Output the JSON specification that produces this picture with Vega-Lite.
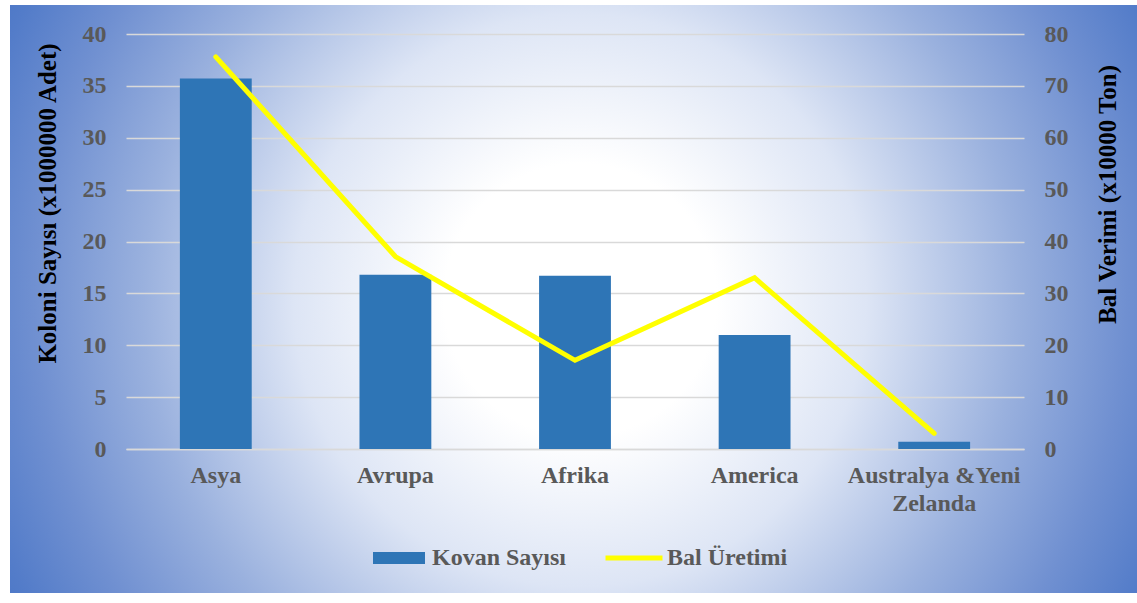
{
  "$schema": "https://vega.github.io/schema/vega-lite/v6.json",
  "width": 1127,
  "height": 588,
  "autosize": {"type": "none"},
  "padding": {"left": 10, "top": 5, "right": 0, "bottom": 10},
  "background": "#ffffff",
  "data": {
    "values": [
      {"region": "Asya", "kovan": 35.7, "bal": 75.6},
      {"region": "Avrupa", "kovan": 16.8, "bal": 37.1},
      {"region": "Afrika", "kovan": 16.7, "bal": 17.1},
      {"region": "America", "kovan": 11.0, "bal": 33.0},
      {"region": "Australya &Yeni Zelanda", "kovan": 0.7, "bal": 3.0}
    ]
  },
  "encoding": {
    "x": {
      "field": "region",
      "type": "nominal",
      "sort": null,
      "scale": {"range": [116, 1014], "paddingInner": 0.6, "paddingOuter": 0.3},
      "axis": {
        "title": null,
        "labelAngle": 0,
        "offset": -144,
        "domainColor": "#d9d9d9",
        "domainWidth": 1.5,
        "ticks": false,
        "tickSize": 0,
        "labelPadding": 14,
        "labelLineHeight": 28,
        "labelExpr": "datum.label == 'Australya &Yeni Zelanda' ? ['Australya &Yeni', 'Zelanda'] : datum.label"
      }
    }
  },
  "layer": [
    {
      "mark": {"type": "bar"},
      "encoding": {
        "y": {
          "field": "kovan",
          "type": "quantitative",
          "scale": {"domain": [0, 40], "range": [444, 29], "nice": false},
          "axis": {
            "title": "Koloni Sayısı (x1000000 Adet)",
            "orient": "left",
            "offset": -116,
            "values": [0, 5, 10, 15, 20, 25, 30, 35, 40],
            "domain": false,
            "ticks": false,
            "tickSize": 0,
            "labelPadding": 20,
            "grid": true,
            "gridColor": "#d9d9d9",
            "gridWidth": 1.5,
            "titleX": -79,
            "titleY": 198,
            "titleAngle": 270,
            "titleAlign": "center",
            "titleBaseline": "middle"
          }
        },
        "fill": {
          "datum": "Kovan Sayısı",
          "type": "nominal",
          "scale": {"range": ["#2e75b6"]},
          "legend": {
            "title": null,
            "orient": "none",
            "legendX": 362,
            "legendY": 526,
            "padding": 0,
            "symbolType": "M-1,-0.23H1V0.23H-1Z",
            "symbolSize": 2704,
            "labelOffset": 6
          }
        }
      }
    },
    {
      "mark": {"type": "line", "strokeWidth": 5, "strokeCap": "round"},
      "encoding": {
        "y": {
          "field": "bal",
          "type": "quantitative",
          "scale": {"domain": [0, 80], "range": [444, 29], "nice": false},
          "axis": {
            "title": "Bal Verimi (x10000 Ton)",
            "orient": "right",
            "offset": -113,
            "values": [0, 10, 20, 30, 40, 50, 60, 70, 80],
            "domain": false,
            "ticks": false,
            "tickSize": 0,
            "labelPadding": 20,
            "grid": false,
            "titleX": 83,
            "titleY": 189,
            "titleAngle": 270,
            "titleAlign": "center",
            "titleBaseline": "middle"
          }
        },
        "stroke": {
          "datum": "Bal Üretimi",
          "type": "nominal",
          "scale": {"range": ["#ffff00"]},
          "legend": {
            "title": null,
            "orient": "none",
            "legendX": 593,
            "legendY": 522,
            "padding": 0,
            "symbolType": "stroke",
            "symbolSize": 3249,
            "symbolStrokeWidth": 5,
            "labelOffset": 2
          }
        }
      }
    }
  ],
  "resolve": {"scale": {"y": "independent", "fill": "independent", "stroke": "independent"}},
  "config": {
    "view": {
      "stroke": null,
      "fill": {
        "gradient": "radial",
        "x1": 0.506, "y1": 0.501, "x2": 0.506, "y2": 0.501,
        "r1": 0, "r2": 0.605,
        "stops": [
          {"offset": 0, "color": "#ffffff"},
          {"offset": 0.2, "color": "#ffffff"},
          {"offset": 0.42, "color": "#dde5f5"},
          {"offset": 0.64, "color": "#9ab1de"},
          {"offset": 0.8, "color": "#7090d1"},
          {"offset": 0.92, "color": "#537cc9"},
          {"offset": 1, "color": "#4472c4"}
        ]
      }
    },
    "axis": {
      "labelFont": "Liberation Serif",
      "labelFontSize": 24,
      "labelFontWeight": "bold",
      "labelColor": "#595959",
      "titleFont": "Liberation Serif",
      "titleFontSize": 25,
      "titleFontWeight": "bold",
      "titleColor": "#000000"
    },
    "legend": {
      "labelFont": "Liberation Serif",
      "labelFontSize": 24,
      "labelFontWeight": "bold",
      "labelColor": "#595959"
    }
  }
}
